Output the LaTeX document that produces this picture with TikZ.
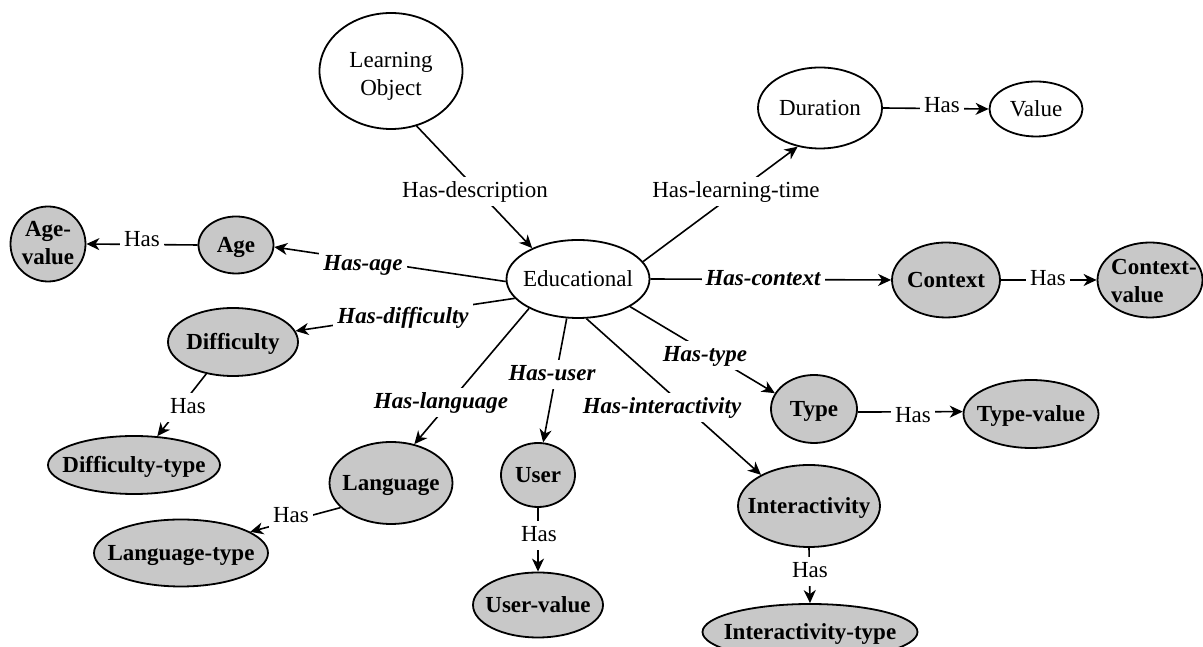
\documentclass[tikz,border=0pt]{standalone}
\usepackage{fontspec}
\setmainfont{Liberation Serif}
\usetikzlibrary{shapes.geometric,arrows.meta}
\definecolor{nodefill}{RGB}{200,200,200}
\newcommand\bigfont{\fontsize{23pt}{28pt}\selectfont}
% text that does not enlarge the ellipse around it
\newcommand\oneline[1]{\makebox[0pt]{\raisebox{-.33em}[0pt][0pt]{#1}}}
\newcommand\twolines[4]{\makebox[0pt]{\raisebox{#1}[0pt][0pt]{\begin{tabular}[b]{@{}#2@{}}#3\\#4\end{tabular}}}}
\begin{document}
\begin{tikzpicture}[x=1pt,y=1pt,
  every node/.style={font=\bigfont},
  wh/.style 2 args={minimum width=#1pt,minimum height=#2pt},
  concept/.style={ellipse,draw,line width=1.8pt,inner sep=0pt,fill=white},
  attribute/.style={concept,fill=nodefill,font=\bigfont\bfseries},
  link/.style={line width=1.6pt},
  arrow/.style={link,-{Stealth[length=13pt,width=12pt,inset=4pt]}},
  tag/.style={fill=white,inner xsep=4pt,inner ysep=4pt,text height=16pt,text depth=5pt},
  reltag/.style={tag,font=\bigfont\bfseries\itshape}]

\useasboundingbox (0,0) rectangle (1203,647);
\clip (0,0) rectangle (1203,647);

% concepts
\node[concept,wh={143}{116}] (lo)  at (391,576) {\twolines{-25pt}{c}{Learning}{Object}};
\node[concept,wh={143}{78}]  (edu) at (578,368) {\oneline{Educational}};
\node[concept,wh={124}{81}]  (dur) at (820,539) {\oneline{Duration}};
\node[concept,wh={93}{55}]   (val) at (1036,538) {\oneline{Value}};

% attributes
\node[attribute,wh={75}{75}]   (agev)   at (48,403)   {\twolines{-21pt}{c}{Age-}{value}};
\node[attribute,wh={75}{57}]   (age)    at (236,402)  {\oneline{Age}};
\node[attribute,wh={130}{68}]  (diff)   at (233,305)  {\oneline{Difficulty}};
\node[attribute,wh={172}{58}]  (difft)  at (134,182)  {\oneline{Difficulty-type}};
\node[attribute,wh={123}{82}]  (lang)   at (391,164)  {\oneline{Language}};
\node[attribute,wh={174}{67}]  (langt)  at (181,94)   {\oneline{Language-type}};
\node[attribute,wh={74}{64}]   (user)   at (538,172)  {\oneline{User}};
\node[attribute,wh={130}{65}]  (userv)  at (538,42)   {\oneline{User-value}};
\node[attribute,wh={142}{82}]  (inter)  at (809,141)  {\oneline{Interactivity}};
\node[attribute,wh={215}{56}]  (intert) at (810,15)   {\oneline{Interactivity-type}};
\node[attribute,wh={86}{68}]   (type)   at (814,238)  {\oneline{Type}};
\node[attribute,wh={135}{68}]  (typev)  at (1031,233) {\oneline{Type-value}};
\node[attribute,wh={108}{75}]  (ctx)    at (946,367)  {\oneline{Context}};
\node[attribute,wh={105}{75}]  (ctxv)   at (1150,367) {\twolines{-23pt}{l}{\hspace{8pt}Context-}{\hspace{8pt}value}};

% connectors
\draw[arrow] (lo.-65)    -- (edu.146);
\draw[arrow] (edu.15)    -- (dur.-120);
\draw[arrow] (dur.0)     -- (val.180);
\draw[arrow] (edu.182)   -- (age.-3);
\draw[arrow] (edu.197)   -- (diff.10);
\draw[arrow] (edu.211)   -- (lang.59);
\draw[arrow] (edu.254)   -- (user.81);
\draw[arrow] (edu.-78)   -- (inter.147);
\draw[arrow] (edu.-28)   -- (type.158);
\draw[arrow] (edu.0)     -- (ctx.180);
\draw[arrow] (ctx.0)     -- (ctxv.180);
\draw[arrow] (type.-4)   -- (typev.178);
\draw[arrow] (age.180)   -- (agev.0);
\draw[arrow] (diff.-130) -- (difft.51);
\draw[arrow] (lang.-154) -- (langt.17);
\draw[arrow] (user.-90)  -- (userv.90);
\draw[arrow] (inter.-90) -- (intert.90);

% connector labels
\node[tag]    (tdesc)  at (475,455)  {Has-description};
\node[tag]    (ttime)  at (736,455)  {Has-learning-time};
\node[tag]    (tval)   at (942,540)  {Has};
\node[reltag] (tage)   at (363,382)  {Has-age};
\node[reltag] (tdiff)  at (403,329)  {Has-difficulty};
\node[reltag] (tlang)  at (441,244)  {Has-language};
\node[reltag] (tuser)  at (552,272)  {Has-user};
\node[reltag] (tinter) at (662,239)  {Has-interactivity};
\node[reltag] (ttype)  at (705,291)  {Has-type};
\node[reltag] (tctx)   at (763,367)  {Has-context};
\node[tag]    (tctxv)  at (1048,367) {Has};
\node[tag]    (ttypev) at (913,230)  {Has};
\node[tag]    (tagev)  at (142,406)  {Has};
\node[tag]    (tdifft) at (188,239)  {Has};
\node[tag]    (tlangt) at (291,130)  {Has};
\node[tag]    (tuserv) at (539,111)  {Has};
\node[tag]    (tintert) at (810,75)  {Has};
\end{tikzpicture}
\end{document}
